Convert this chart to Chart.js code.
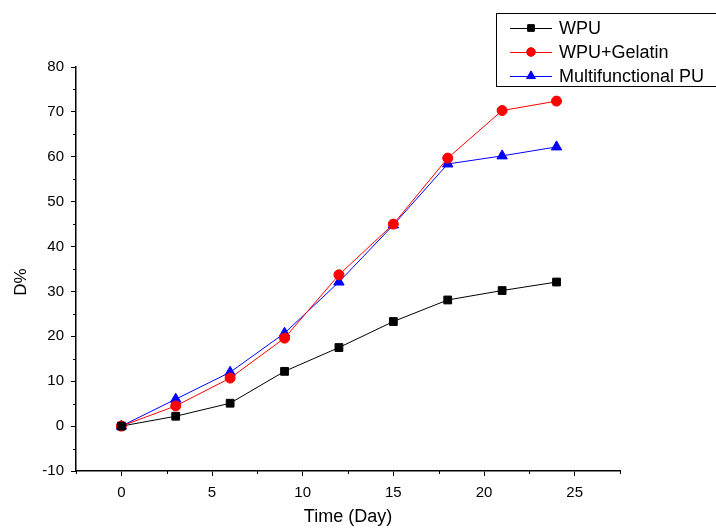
<!DOCTYPE html>
<html>
<head>
<meta charset="utf-8">
<script src="https://cdn.jsdelivr.net/npm/chart.js@4"></script>
<style>
  html, body { margin: 0; padding: 0; background: #fff; }
  #wrap { width: 716px; height: 528px; }
</style>
</head>
<body>
<div id="wrap"><canvas id="chart" width="716" height="528"></canvas></div>
<script>
// days and D%
const days = [0, 3, 6, 9, 12, 15, 18, 21, 24];
const wpu = [0, 2.2, 5.1, 12.2, 17.5, 23.3, 28.1, 30.2, 32.1];
const wpuGelatin = [0, 4.5, 10.7, 19.6, 33.7, 45.0, 59.7, 70.3, 72.4];
const multiPU = [0, 6.0, 12.0, 20.7, 32.1, 44.8, 58.4, 60.2, 62.2];

const xMinorTicks = [-2.5, 2.5, 7.5, 12.5, 17.5, 22.5, 27.5];
const yMinorTicks = [-5, 5, 15, 25, 35, 45, 55, 65, 75];

const FONT = "'Liberation Sans', Arial, sans-serif";

function pts(ys) {
    return days.map((d, i) => ({ x: d, y: ys[i] }));
}

// minor ticks (Origin style, shorter than the major ones) + y title
const minorTicks = {
    id: "minorTicks",
    afterDraw(chart) {
        const { ctx, scales } = chart;
        ctx.save();
        ctx.strokeStyle = "#000";
        ctx.lineWidth = 1;
        const xs = scales.x, ys = scales.y;
        xMinorTicks.forEach(v => {
            const px = Math.round(xs.getPixelForValue(v)) + 0.5;
            ctx.beginPath();
            ctx.moveTo(px, xs.top);
            ctx.lineTo(px, xs.top + 3);
            ctx.stroke();
        });
        yMinorTicks.forEach(v => {
            const py = Math.round(ys.getPixelForValue(v)) + 0.5;
            ctx.beginPath();
            ctx.moveTo(ys.right, py);
            ctx.lineTo(ys.right - 3, py);
            ctx.stroke();
        });
        // y axis title sits a bit below the middle in the original
        ctx.translate(21, 282);
        ctx.rotate(-Math.PI / 2);
        ctx.fillStyle = "#000";
        ctx.font = "17px " + FONT;
        ctx.textAlign = "center";
        ctx.textBaseline = "middle";
        ctx.fillText("D%", 0, 0);
        ctx.restore();
    }
};

// boxed legend in the top right corner
const boxLegend = {
    id: "boxLegend",
    afterDraw(chart) {
        const ctx = chart.ctx;
        ctx.save();
        ctx.strokeStyle = "#000";
        ctx.lineWidth = 1;
        ctx.strokeRect(496.5, 13.5, 230, 73);
        ctx.font = "18px " + FONT;
        ctx.textBaseline = "middle";
        const rows = [28, 52, 76];
        chart.data.datasets.forEach((ds, i) => {
            const y = rows[i];
            ctx.strokeStyle = ds.borderColor;
            ctx.beginPath();
            ctx.moveTo(510, y + 0.5);
            ctx.lineTo(552, y + 0.5);
            ctx.stroke();
            Chart.helpers.drawPoint(ctx, {
                pointStyle: ds.pointStyle,
                radius: ds.pointRadius * 0.85,
                borderWidth: 1
            }, 531, y);
            ctx.fillStyle = ds.pointBackgroundColor;
            ctx.strokeStyle = ds.pointBackgroundColor;
            ctx.fill();
            ctx.fillStyle = "#000";
            ctx.fillText(ds.label, 559, y + 1);
        });
        ctx.restore();
    }
};

new Chart(document.getElementById("chart").getContext("2d"), {
    type: "line",
    data: {
        datasets: [
            {
                label: "WPU",
                data: pts(wpu),
                borderColor: "#000000",
                backgroundColor: "#000000",
                pointBackgroundColor: "#000000",
                pointBorderColor: "#000000",
                pointStyle: "rect",
                pointRadius: 5.5,
                borderWidth: 1
            },
            {
                label: "WPU+Gelatin",
                data: pts(wpuGelatin),
                borderColor: "#ff0000",
                backgroundColor: "#ff0000",
                pointBackgroundColor: "#ff0000",
                pointBorderColor: "#ff0000",
                pointStyle: "circle",
                pointRadius: 5,
                borderWidth: 1
            },
            {
                label: "Multifunctional PU",
                data: pts(multiPU),
                borderColor: "#0000ff",
                backgroundColor: "#0000ff",
                pointBackgroundColor: "#0000ff",
                pointBorderColor: "#0000ff",
                pointStyle: "triangle",
                pointRadius: 6,
                borderWidth: 1
            }
        ]
    },
    options: {
        responsive: false,
        animation: false,
        layout: { padding: { top: 67, right: 96, left: 0, bottom: 0 } },
        plugins: {
            legend: { display: false },
            tooltip: { enabled: false }
        },
        scales: {
            x: {
                type: "linear",
                min: -2.5,
                max: 27.5,
                afterBuildTicks: s => { s.ticks = [0, 5, 10, 15, 20, 25].map(v => ({ value: v })); },
                afterFit: s => { s.height = 57; },
                border: { display: true, color: "#000", width: 1.5 },
                grid: { drawOnChartArea: false, tickLength: 5, color: "#000" },
                ticks: { color: "#000", font: { family: FONT, size: 15 }, padding: 8 },
                title: {
                    display: true,
                    text: "Time (Day)",
                    color: "#000",
                    font: { family: FONT, size: 18 },
                    padding: { top: 8, bottom: 0 }
                }
            },
            y: {
                min: -10,
                max: 80,
                ticks: { stepSize: 10, color: "#000", font: { family: FONT, size: 15 }, padding: 7 },
                afterFit: s => { s.width = 76; },
                border: { display: true, color: "#000", width: 1.5 },
                grid: { drawOnChartArea: false, tickLength: 5, color: "#000" },
                title: { display: false }
            }
        }
    },
    plugins: [minorTicks, boxLegend]
});
</script>
</body>
</html>
